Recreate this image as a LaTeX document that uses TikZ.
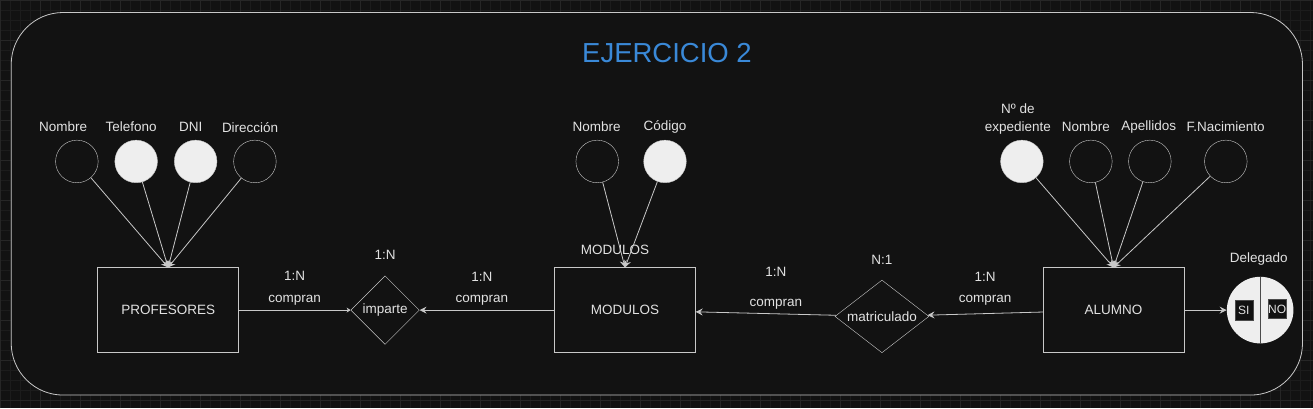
\documentclass[tikz,border=0pt]{standalone}
\usepackage{fontspec}
\setmainfont{Liberation Sans}
\usetikzlibrary{shapes.geometric,arrows.meta}
\definecolor{fondo}{HTML}{121212}
\definecolor{rejilla}{HTML}{1C1C1C}
\definecolor{rejillab}{HTML}{262626}
\definecolor{linea}{HTML}{C8C8C8}
\definecolor{texto}{HTML}{E2E2E2}
\definecolor{relleno}{HTML}{EEEEEE}
\definecolor{azul}{HTML}{3A89D8}
\definecolor{gris}{HTML}{4A4A4A}
\begin{document}
\begin{tikzpicture}[x=1pt,y=-1pt,
	every node/.style={text=texto,font=\fontsize{13.5}{15}\selectfont},
	ent/.style={draw=linea,rectangle,minimum width=141pt,minimum height=85pt},
	rel/.style={draw=linea,diamond,inner sep=0pt},
	atr/.style={draw=linea,circle,minimum size=42.6pt,inner sep=0pt},
	clave/.style={atr,fill=relleno},
	card/.style={align=center,font=\fontsize{13.5}{21.5}\selectfont},
	caja/.style={fill=fondo,draw=gris,inner sep=0pt,font=\fontsize{12}{13}\selectfont},
	flecha/.style={draw=linea,line width=0.8pt,-{Stealth[length=7pt,width=7pt,inset=2.5pt]}},
	linea/.style={draw=linea,line width=0.8pt}]
	\fill[fondo] (0,0) rectangle (1313,408);
	\draw[rejilla,step=10pt] (0,0) grid (1313,408);
	\draw[rejillab,step=40pt] (0,0) grid (1313,408);
	\draw[linea,fill=fondo,rounded corners=52pt] (11,12.3) rectangle (1302.7,395);
	\node (titulo) at (667,53) {\fontsize{27.5}{30}\selectfont\color{azul}EJERCICIO 2};
	\node (P) [ent] at (168,310) {PROFESORES};
	\node (M) [ent] at (625,310) {MODULOS};
	\node (A) [ent] at (1113.7,310) {ALUMNO};
	\node (Mt) at (615,250) {MODULOS};
	\node (I) [rel,minimum width=68.6pt,minimum height=68.6pt] at (385,310) {imparte};
	\node (R) [rel,shape aspect=1.4,minimum width=94pt,minimum height=72.7pt] at (882,316.3) {matriculado};
	\node (c1) at (385,255) {1:N};
	\node (c2) at (882,259.3) {N:1};
	\node (p1) [atr] at (76.7,161.3) {};
	\node (p2) [clave] at (136,161.3) {};
	\node (p3) [clave] at (195.5,161.3) {};
	\node (p4) [atr] at (254.8,161.3) {};
	\node (p1t) at (63,127) {Nombre};
	\node (p2t) at (131,127) {Telefono};
	\node (p3t) at (190.5,127) {DNI};
	\node (p4t) at (250,127) {Dirección};
	\node (m1) [atr] at (597.2,161.3) {};
	\node (m2) [clave] at (665,161.3) {};
	\node (m1t) at (596.7,127) {Nombre};
	\node (m2t) at (665,127) {Código};
	\node (a1) [clave] at (1022,161.3) {};
	\node (a2) [atr] at (1091,161.3) {};
	\node (a3) [atr] at (1150,161.3) {};
	\node (a4) [atr] at (1226,161.3) {};
	\node (a1t) [align=center,font=\fontsize{13.5}{17.6}\selectfont] at (1018,119) {Nº de\\expediente};
	\node (a2t) at (1086,127) {Nombre};
	\node (a3t) at (1149,127) {Apellidos};
	\node (a4t) at (1225.8,127) {F.Nacimiento};
	\node (D) [circle,fill=relleno,minimum size=66.6pt] at (1260.3,310) {};
	\draw[gris,line width=1pt] (D.north) -- (D.south);
	\node (si) [caja,minimum width=18pt,minimum height=20pt] at (1244,310) {SI};
	\node (no) [caja,minimum width=17pt,minimum height=19pt] at (1277.3,309) {NO};
	\node (Dt) at (1259,259) {Delegado};
	\draw[flecha] (p1) to (P.north);
	\draw[flecha] (p2) to (P.north);
	\draw[flecha] (p3) to (P.north);
	\draw[flecha] (p4) to (P.north);
	\draw[flecha] (m1) to (M.north);
	\draw[flecha] (m2) to (M.north);
	\draw[flecha] (a1) to (A.north);
	\draw[flecha] (a2) to (A.north);
	\draw[flecha] (a3) to (A.north);
	\draw[flecha] (a4) to (A.north);
	\draw[linea,-{Stealth[length=4pt,width=5pt]}] (P) to node [card,yshift=21.7pt] (l1) {1:N\\compran} (I);
	\draw[flecha] (M) to node [card,yshift=21.5pt,xshift=-5pt] (l2) {1:N\\compran} (I);
	\draw[flecha] (R) to node [card,font=\fontsize{13.5}{30}\selectfont,yshift=25.6pt,xshift=10pt] (l3) {1:N\\compran} (M);
	\draw[flecha] (A) to node [card,yshift=24.7pt] (l4) {1:N\\compran} (R);
	\draw[flecha] (A) to (D);
\end{tikzpicture}
\end{document}
